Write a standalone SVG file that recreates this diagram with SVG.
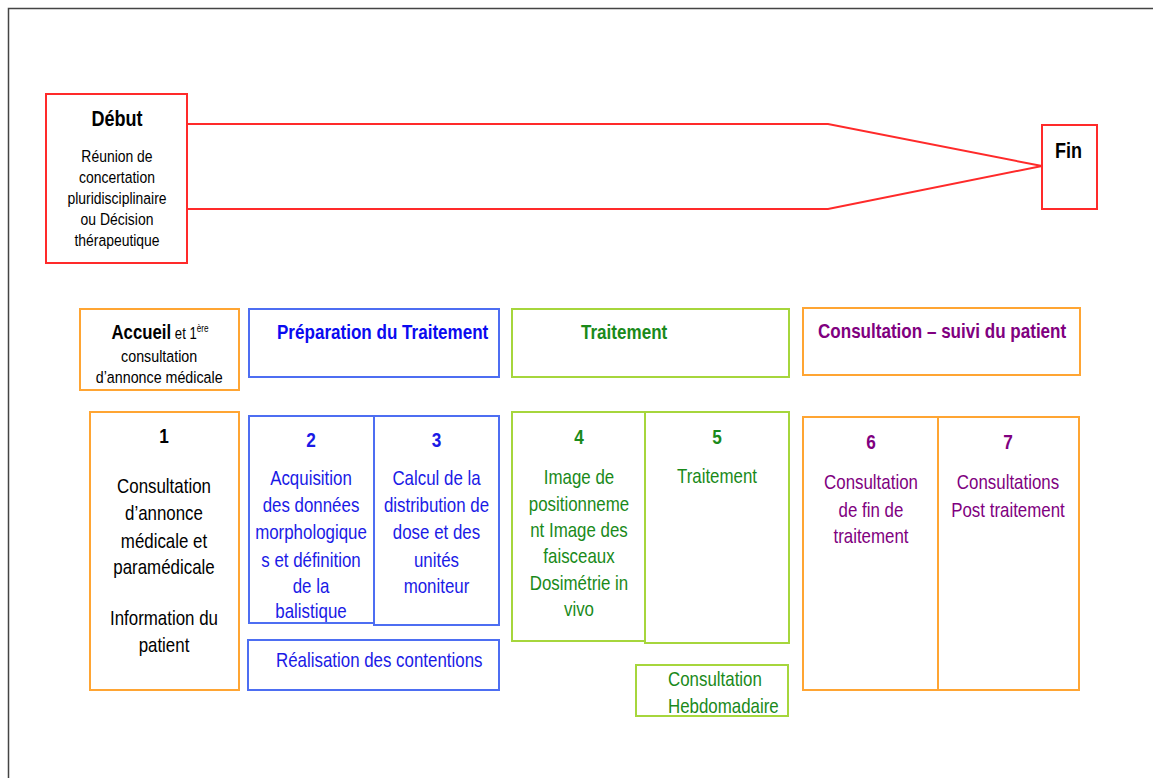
<svg xmlns="http://www.w3.org/2000/svg" width="1153" height="778" viewBox="0 0 1153 778">
<style>
text{font-family:"Liberation Sans",Arial,sans-serif;}
.box{fill:#fff;stroke-width:2;}
.red{stroke:#ff2a2a;}
.org{stroke:#ffa533;}
.blu{stroke:#4d6ef2;}
.grn{stroke:#a6d63c;}
.k{fill:#000;}
.tb{fill:#1a1ae6;}
.tg{fill:#1a8a1a;}
.tp{fill:#800080;}
.c{text-anchor:middle;}
.b{font-weight:bold;}
.conn{fill:none;stroke:#ff2a2a;stroke-width:2;}
</style>
<rect width="1153" height="778" fill="#fff"/>
<path d="M8.5 778 V8.5 H1153" fill="none" stroke="#444" stroke-width="1.5"/>

<g id="connectors">
<polyline class="conn" points="187,124 828,124 1042,166"/>
<polyline class="conn" points="187,209 828,209 1042,166"/>
</g>

<g id="debut">
<rect class="box red" x="46" y="94" width="141" height="169"/>
<g transform="translate(117,0) scale(0.82,1) translate(-117,0)">
<text class="k c b" x="117" y="126" font-size="22">Début</text>
<g class="k c" font-size="17">
<text x="117" y="162">Réunion de</text>
<text x="117" y="183">concertation</text>
<text x="117" y="204">pluridisciplinaire</text>
<text x="117" y="225">ou Décision</text>
<text x="117" y="246">thérapeutique</text>
</g>
</g>
</g>

<g id="fin">
<rect class="box red" x="1042" y="125" width="55" height="84"/>
<g transform="translate(1055,0) scale(0.82,1) translate(-1055,0)">
<text class="k b" x="1055" y="158" font-size="22">Fin</text>
</g>
</g>

<g id="accueil">
<rect class="box org" x="80" y="309" width="159" height="81"/>
<g transform="translate(160,0) scale(0.82,1) translate(-160,0)">
<text class="k c" x="160" y="339" font-size="16"><tspan font-weight="bold" font-size="20.5">Accueil</tspan> et 1<tspan font-size="10" dy="-7">ère</tspan></text>
<text class="k c" x="159" y="362" font-size="17.4">consultation</text>
<text class="k c" x="159" y="383" font-size="17.4">d’annonce médicale</text>
</g>
</g>

<g id="preparation">
<rect class="box blu" x="249" y="309" width="250" height="68"/>
<g transform="translate(277,0) scale(0.82,1) translate(-277,0)">
<text class="b" x="277" y="339" font-size="20.8" fill="#0a0af0">Préparation du Traitement</text>
</g>
</g>

<g id="traitement-header">
<rect class="box grn" x="512" y="309" width="277" height="68"/>
<g transform="translate(581,0) scale(0.82,1) translate(-581,0)">
<text class="tg b" x="581" y="339" font-size="20.8">Traitement</text>
</g>
</g>

<g id="suivi">
<rect class="box org" x="803" y="308" width="277" height="67"/>
<g transform="translate(818,0) scale(0.82,1) translate(-818,0)">
<text class="tp b" x="818" y="338" font-size="20.8">Consultation – suivi du patient</text>
</g>
</g>

<g id="step1">
<rect class="box org" x="90" y="412" width="149" height="278"/>
<g transform="translate(164,0) scale(0.82,1) translate(-164,0)">
<text class="k c b" x="164" y="443" font-size="21">1</text>
<g class="k c" font-size="20.6">
<text x="164" y="493">Consultation</text>
<text x="164" y="520">d’annonce</text>
<text x="164" y="548">médicale et</text>
<text x="164" y="574">paramédicale</text>
<text x="164" y="625">Information du</text>
<text x="164" y="652">patient</text>
</g>
</g>
</g>

<g id="step2">
<rect class="box blu" x="249" y="416" width="125" height="207"/>
<g transform="translate(311,0) scale(0.82,1) translate(-311,0)">
<text class="tb c b" x="311" y="447" font-size="21">2</text>
<g class="tb c" font-size="20.6">
<text x="311" y="485">Acquisition</text>
<text x="311" y="512">des données</text>
<text x="311" y="539">morphologique</text>
<text x="311" y="567">s et définition</text>
<text x="311" y="593">de la</text>
<text x="311" y="618">balistique</text>
</g>
</g>
</g>

<g id="step3">
<rect class="box blu" x="374" y="416" width="125" height="209"/>
<g transform="translate(436.5,0) scale(0.82,1) translate(-436.5,0)">
<text class="tb c b" x="436.5" y="447" font-size="21">3</text>
<g class="tb c" font-size="20.6">
<text x="436.5" y="485">Calcul de la</text>
<text x="436.5" y="512">distribution de</text>
<text x="436.5" y="539">dose et des</text>
<text x="436.5" y="567">unités</text>
<text x="436.5" y="593">moniteur</text>
</g>
</g>
</g>

<g id="contentions">
<rect class="box blu" x="248" y="640" width="251" height="50"/>
<g transform="translate(276,0) scale(0.82,1) translate(-276,0)">
<text class="tb" x="276" y="667" font-size="20.6">Réalisation des contentions</text>
</g>
</g>

<g id="step4">
<rect class="box grn" x="512" y="412" width="133" height="229"/>
<g transform="translate(579,0) scale(0.82,1) translate(-579,0)">
<text class="tg c b" x="579" y="444" font-size="21">4</text>
<g class="tg c" font-size="20.6">
<text x="579" y="484">Image de</text>
<text x="579" y="511">positionneme</text>
<text x="579" y="537">nt Image des</text>
<text x="579" y="563">faisceaux</text>
<text x="579" y="590">Dosimétrie in</text>
<text x="579" y="616">vivo</text>
</g>
</g>
</g>

<g id="step5">
<rect class="box grn" x="645" y="412" width="144" height="231"/>
<g transform="translate(717,0) scale(0.82,1) translate(-717,0)">
<text class="tg c b" x="717" y="444" font-size="21">5</text>
<text class="tg c" x="717" y="483" font-size="20.6">Traitement</text>
</g>
</g>

<g id="hebdo">
<rect class="box grn" x="636" y="665" width="152" height="51"/>
<g transform="translate(668,0) scale(0.82,1) translate(-668,0)">
<text class="tg" x="668" y="686" font-size="20.6">Consultation</text>
<text class="tg" x="668" y="713" font-size="20.6">Hebdomadaire</text>
</g>
</g>

<g id="step6">
<rect class="box org" x="803" y="417" width="135" height="273"/>
<g transform="translate(871,0) scale(0.82,1) translate(-871,0)">
<text class="tp c b" x="871" y="449" font-size="21">6</text>
<g class="tp c" font-size="20.6">
<text x="871" y="489">Consultation</text>
<text x="871" y="517">de fin de</text>
<text x="871" y="543">traitement</text>
</g>
</g>
</g>

<g id="step7">
<rect class="box org" x="938" y="417" width="141" height="273"/>
<g transform="translate(1008,0) scale(0.82,1) translate(-1008,0)">
<text class="tp c b" x="1008" y="449" font-size="21">7</text>
<g class="tp c" font-size="20.6">
<text x="1008" y="489">Consultations</text>
<text x="1008" y="517">Post traitement</text>
</g>
</g>
</g>
</svg>
